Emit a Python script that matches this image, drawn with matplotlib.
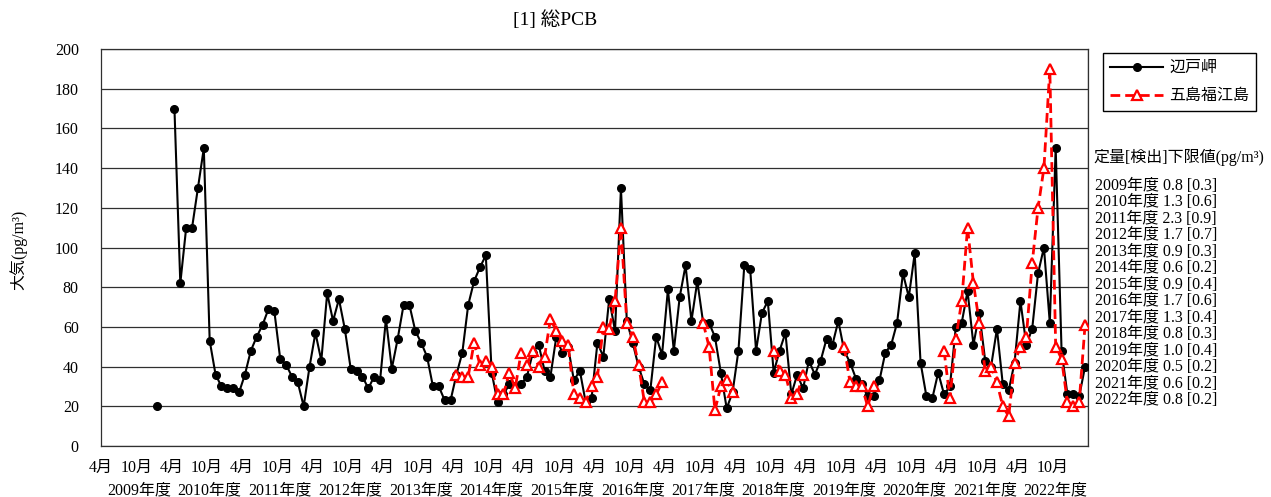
import numpy as np
import matplotlib
matplotlib.use('Agg')
import matplotlib.pyplot as plt

plt.rcParams['font.family'] = ['Liberation Serif', 'Noto Sans CJK JP']

nan = np.nan

# monthly values, fiscal year April -> March
fiscal_years = [str(y) for y in range(2009, 2023)]

hedo = [  # 辺戸岬
    [nan] * 9 + [20, nan, nan],
    [170, 82, 110, 110, 130, 150, 53, 36, 30, 29, 29, 27],
    [36, 48, 55, 61, 69, 68, 44, 41, 35, 32, 20, 40],
    [57, 43, 77, 63, 74, 59, 39, 38, 35, 29, 35, 33],
    [64, 39, 54, 71, 71, 58, 52, 45, 30, 30, 23, 23],
    [36, 47, 71, 83, 90, 96, 37, 22, 26, 31, 30, 31],
    [35, 47, 51, 38, 35, 55, 47, 50, 33, 38, 22, 24],
    [52, 45, 74, 58, 130, 63, 52, 40, 31, 28, 55, 46],
    [79, 48, 75, 91, 63, 83, 62, 62, 55, 37, 19, 27],
    [48, 91, 89, 48, 67, 73, 37, 48, 57, 26, 36, 29],
    [43, 36, 43, 54, 51, 63, 48, 42, 34, 31, 25, 25],
    [33, 47, 51, 62, 87, 75, 97, 42, 25, 24, 37, 26],
    [30, 60, 62, 78, 51, 67, 43, 40, 59, 31, 28, 42],
    [73, 51, 59, 87, 100, 62, 150, 48, 26, 26, 25, 40],
]

goto = [  # 五島福江島
    [nan] * 12,
    [nan] * 12,
    [nan] * 12,
    [nan] * 12,
    [nan] * 12,
    [36, 35, 35, 52, 41, 43, 40, 26, 26, 37, 29, 47],
    [41, 48, 40, 45, 64, 58, 53, 51, 26, 24, 22, 30],
    [35, 60, 59, 73, 110, 62, 55, 41, 22, 22, 26, 32],
    [nan] * 6 + [62, 50, 18, 30, 33, 27],
    [nan] * 6 + [48, 38, 36, 24, 26, 36],
    [nan] * 6 + [50, 32, 30, 30, 20, 30],
    [nan] * 11 + [48],
    [24, 54, 73, 110, 82, 62, 38, 40, 32, 20, 15, 42],
    [50, 55, 92, 120, 140, 190, 50, 44, 22, 20, 22, 61],
]

loq = ['0.8', '1.3', '2.3', '1.7', '0.9', '0.6', '0.9', '1.7', '1.3', '0.8', '1.0', '0.5', '0.6', '0.8']
lod = ['0.3', '0.6', '0.9', '0.7', '0.3', '0.2', '0.4', '0.6', '0.4', '0.3', '0.4', '0.2', '0.2', '0.2']

hedo_vals = np.array(sum(hedo, []), dtype=float)
goto_vals = np.array(sum(goto, []), dtype=float)
n_months = len(hedo_vals)
x = np.arange(n_months) + 0.5

W, H = 1271, 497
fig = plt.figure(figsize=(W / 100, H / 100), dpi=100)
ax = fig.add_axes([101 / W, 1 - 446 / H, (1088 - 101) / W, (446 - 49) / H])

ax.plot(x, hedo_vals, color='black', lw=1.5, marker='o', markersize=5.5, zorder=3, label='辺戸岬')
ax.plot(x, goto_vals, color='#ff0000', lw=2.0, ls=(0, (3.5, 1.8)), marker='^', markersize=6.5,
        markerfacecolor='white', markeredgecolor='#ff0000', markeredgewidth=1.6, zorder=4,
        label='五島福江島')

ax.set_xlim(0, n_months)
ax.set_ylim(0, 200)
ax.set_yticks(np.arange(0, 201, 20))
ax.tick_params(axis='y', length=0, pad=16, labelsize=11.5)

# month labels
month_pos = []
month_lab = []
for k in range(len(fiscal_years)):
    month_pos += [12 * k, 12 * k + 6]
    month_lab += ['4月', '10月']
ax.set_xticks(month_pos)
ax.set_xticklabels(month_lab)
ax.tick_params(axis='x', length=0, pad=10, labelsize=11.5)
ax.set_xticks(np.arange(0, n_months + 1, 12), minor=True)
ax.tick_params(axis='x', which='minor', length=0)

ax.grid(False)
ax.yaxis.grid(True, color='#303030', lw=0.9)
ax.xaxis.grid(True, which='minor', color='#303030', lw=0.9)
ax.set_axisbelow(True)
for s in ax.spines.values():
    s.set_color('#303030')
    s.set_linewidth(0.9)

for k, fy in enumerate(fiscal_years):
    ax.text(12 * k + 6.5, -0.111, fy + '年度', transform=ax.get_xaxis_transform(),
            ha='center', va='center', fontsize=11.5)

fig.text(18 / W, 1 - 250 / H, '大気(pg/m³)', rotation=90, ha='center', va='center', fontsize=11.5)
fig.text(555 / W, 1 - 20 / H, '[1] 総PCB', ha='center', va='center', fontsize=14)

leg = fig.legend(loc='upper left', bbox_to_anchor=(1103 / W, 1 - 53 / H), fontsize=11.5,
                 frameon=True, fancybox=False, edgecolor='black', framealpha=1,
                 handlelength=3.3, handletextpad=0.4, labelspacing=0.75, borderpad=0.45,
                 borderaxespad=0)
leg.get_frame().set_linewidth(1.0)

fig.text(1093 / W, 1 - 157 / H, '定量[検出]下限値(pg/m³)', ha='left', va='center', fontsize=11.5)
for k, fy in enumerate(fiscal_years):
    fig.text(1095 / W, 1 - (186 + k * 16.46) / H, f'{fy}年度 {loq[k]} [{lod[k]}]',
             ha='left', va='center', fontsize=11.5)

fig.savefig('out.png', dpi=100)
